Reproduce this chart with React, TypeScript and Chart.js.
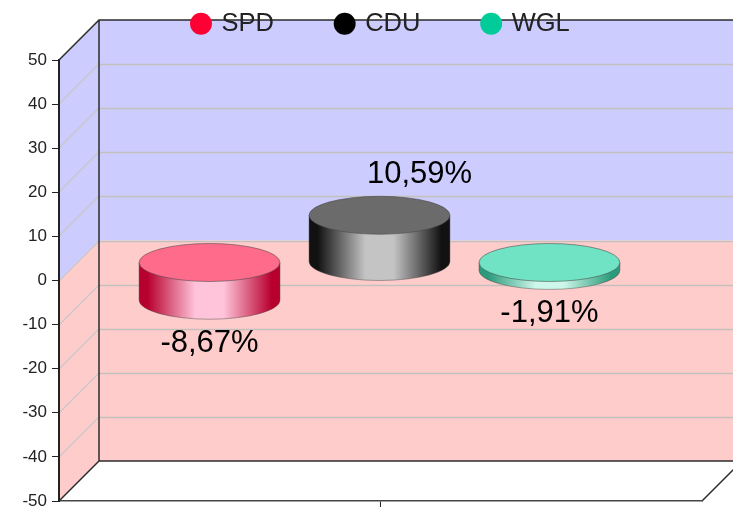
import React, { useEffect, useRef } from "react";
import { Chart, registerables } from "chart.js";

Chart.register(...registerables);

const categories = [""];
const seriesNames = ["SPD", "CDU", "WGL"];
const spdValues = [-8.67];
const cduValues = [10.59];
const wglValues = [-1.91];
const swatches = ["#ff0033", "#000000", "#00cc99"];
const topColors = ["#ff6b8a", "#6b6b6b", "#6fe3c3"];
const edgeColors = ["#b8002e", "#111111", "#2a9a7a"];
const lightColors = ["#ffc4da", "#c4c4c4", "#ccf7ea"];
const yMin = -50;
const yMax = 50;
const yStep = 10;

const DEPTH = 40;
const FONT = '"Liberation Sans", Arial, sans-serif';

const scenePlugin = {
  id: "scene",
  afterLayout(chart: any) {
    chart.legend.top = -52;
    chart.legend.left += 1;
    chart.legend.right += 1;
  },
  beforeDraw(chart: any) {
    const { ctx, chartArea: a, scales } = chart;
    const y = scales.y;
    const zero = y.getPixelForValue(0);
    const d = DEPTH;
    ctx.save();
    ctx.fillStyle = "#ccccff";
    ctx.fillRect(a.left + d, a.top - d, a.right - a.left, zero - a.top);
    ctx.beginPath();
    ctx.moveTo(a.left, a.top);
    ctx.lineTo(a.left + d, a.top - d);
    ctx.lineTo(a.left + d, zero - d);
    ctx.lineTo(a.left, zero);
    ctx.closePath();
    ctx.fill();
    ctx.fillStyle = "#ffcccc";
    ctx.fillRect(a.left + d, zero - d, a.right - a.left, a.bottom - zero);
    ctx.beginPath();
    ctx.moveTo(a.left, zero);
    ctx.lineTo(a.left + d, zero - d);
    ctx.lineTo(a.left + d, a.bottom - d);
    ctx.lineTo(a.left, a.bottom);
    ctx.closePath();
    ctx.fill();

    y.ticks.forEach((t: any) => {
      const py = Math.round(y.getPixelForValue(t.value));
      if (t.value === yMin || t.value === yMax) return;
      ctx.strokeStyle = "#c8c6c6";
      ctx.lineWidth = 1.2;
      ctx.beginPath();
      ctx.moveTo(a.left, py);
      ctx.lineTo(a.left + d, py - d);
      ctx.stroke();
      ctx.strokeStyle = "#c2c0bc";
      ctx.lineWidth = 1.5;
      ctx.beginPath();
      ctx.moveTo(a.left + d, py - d + 0.5);
      ctx.lineTo(a.right + d, py - d + 0.5);
      ctx.stroke();
    });

    ctx.strokeStyle = "#2b2b2b";
    ctx.lineWidth = 1.5;
    ctx.beginPath();
    ctx.moveTo(a.left, a.top);
    ctx.lineTo(a.left + d, a.top - d);
    ctx.lineTo(a.right + d, a.top - d);
    ctx.moveTo(a.left + d, a.top - d);
    ctx.lineTo(a.left + d, a.bottom - d);
    ctx.lineTo(a.right + d, a.bottom - d);
    ctx.moveTo(a.left + d, a.bottom - d);
    ctx.lineTo(a.left, a.bottom);
    ctx.moveTo(a.right, a.bottom);
    ctx.lineTo(a.right + d, a.bottom - d);
    ctx.stroke();
    ctx.restore();
  },
  beforeDatasetDraw() {
    return false;
  },
  afterDatasetsDraw(chart: any) {
    const { ctx } = chart;
    const rise = 18.5;
    const ry = 19;
    chart.data.datasets.forEach((ds: any, i: number) => {
      const el = chart.getDatasetMeta(i).data[0];
      const rx = el.width / 2;
      const cx = el.x - 1;
      const value = ds.data[0];
      const top = Math.min(el.y, el.base) - rise;
      const bottom = Math.max(el.y, el.base) - rise;
      ctx.save();
      const g = ctx.createLinearGradient(cx - rx, 0, cx + rx, 0);
      g.addColorStop(0, edgeColors[i]);
      g.addColorStop(0.06, edgeColors[i]);
      g.addColorStop(0.4, lightColors[i]);
      g.addColorStop(0.6, lightColors[i]);
      g.addColorStop(0.94, edgeColors[i]);
      g.addColorStop(1, edgeColors[i]);
      ctx.beginPath();
      ctx.moveTo(cx - rx, top);
      ctx.lineTo(cx - rx, bottom);
      ctx.ellipse(cx, bottom, rx, ry, 0, Math.PI, 0, true);
      ctx.lineTo(cx + rx, top);
      ctx.closePath();
      ctx.fillStyle = g;
      ctx.fill();
      ctx.strokeStyle = "rgba(70,70,70,0.45)";
      ctx.lineWidth = 1;
      ctx.stroke();
      ctx.beginPath();
      ctx.ellipse(cx, top, rx, ry, 0, 0, Math.PI * 2);
      ctx.fillStyle = topColors[i];
      ctx.fill();
      ctx.strokeStyle = "rgba(70,70,70,0.55)";
      ctx.stroke();

      ctx.fillStyle = "#000000";
      ctx.font = `31px ${FONT}`;
      ctx.textAlign = "center";
      ctx.textBaseline = "middle";
      const text = value.toFixed(2).replace(".", ",") + "%";
      const labelY = value >= 0 ? top - ry - 22 : bottom + ry + 24;
      const labelX = value >= 0 ? cx + DEPTH : cx;
      ctx.fillText(text, labelX, labelY);
      ctx.restore();
    });
  },
};

export default function App() {
  const ref = useRef<HTMLCanvasElement>(null);
  useEffect(() => {
    const chart = new Chart(ref.current as HTMLCanvasElement, {
      type: "bar",
      data: {
        labels: categories,
        datasets: [
          { label: seriesNames[0], data: spdValues, backgroundColor: swatches[0], borderWidth: 0 },
          { label: seriesNames[1], data: cduValues, backgroundColor: swatches[1], borderWidth: 0 },
          { label: seriesNames[2], data: wglValues, backgroundColor: swatches[2], borderWidth: 0 },
        ],
      },
      options: {
        responsive: false,
        animation: false,
        locale: "en-US",
        categoryPercentage: 0.793,
        barPercentage: 0.829,
        layout: { padding: { top: 0, right: 31, bottom: 0, left: 0 } },
        plugins: {
          tooltip: { enabled: false },
          legend: {
            display: true,
            position: "top",
            fullSize: false,
            maxHeight: 60,
            labels: {
              usePointStyle: true,
              pointStyle: "circle",
              boxWidth: 15.5,
              boxHeight: 15.5,
              padding: 63,
              color: "#222222",
              font: { family: FONT, size: 25.5 },
            },
          },
        },
        scales: {
          x: {
            afterFit: (s: any) => {
              s.height = 6;
              s.paddingLeft = 0;
              s.paddingRight = 0;
            },
            grid: { offset: false, drawOnChartArea: false, drawTicks: true, tickLength: 6, color: "#222222" },
            border: { color: "#444444", width: 1.5 },
            ticks: { display: false },
          },
          y: {
            min: yMin,
            max: yMax,
            afterFit: (s: any) => {
              s.width = 59;
              s.paddingTop = 0;
              s.paddingBottom = 0;
            },
            grid: { drawOnChartArea: false, drawTicks: true, tickLength: 7, color: "#222222" },
            border: { color: "#222222", width: 2 },
            ticks: {
              stepSize: yStep,
              autoSkip: false,
              padding: 5,
              color: "#222222",
              font: { family: FONT, size: 17 },
            },
          },
        },
      } as any,
      plugins: [scenePlugin as any],
    });
    return () => chart.destroy();
  }, []);
  return (
    <div style={{ position: "fixed", left: 0, top: 0, width: 733, height: 507, background: "#ffffff" }}>
      <canvas ref={ref} width={733} height={507} style={{ display: "block" }} />
    </div>
  );
}
